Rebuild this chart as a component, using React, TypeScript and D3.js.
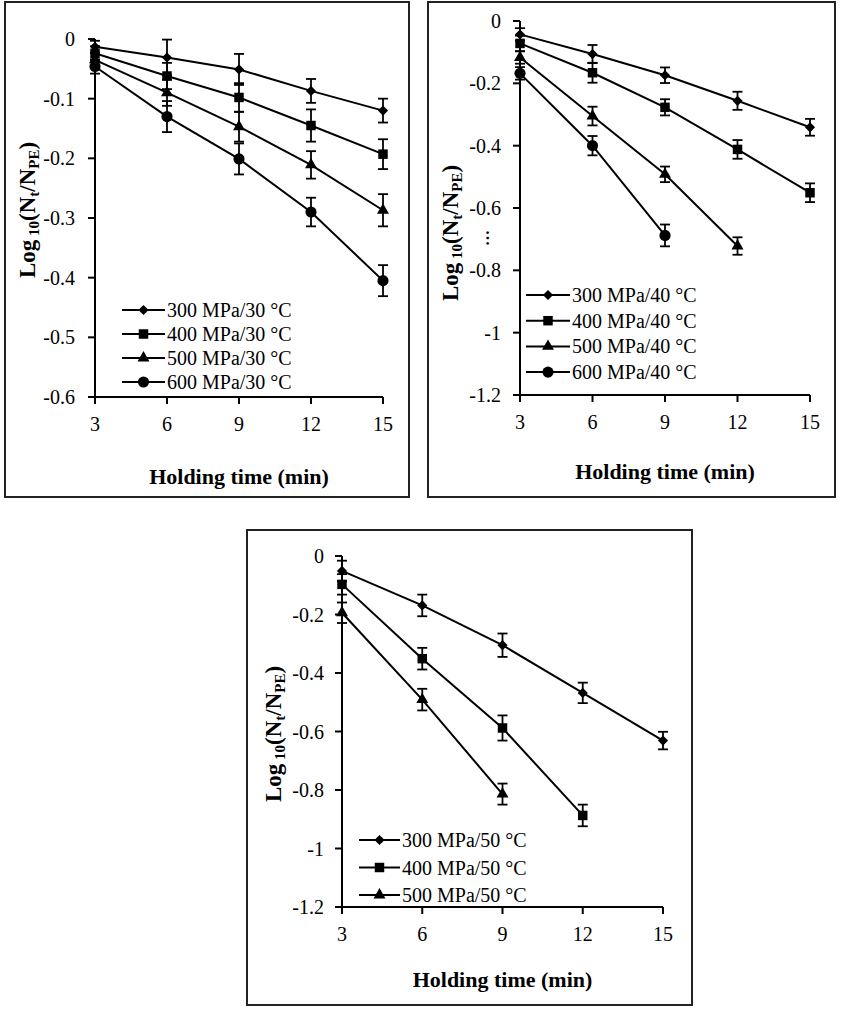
import React from "react";
import * as d3 from "d3";

/* Holding times (min) and axis ticks */
const holdingTimes = [3, 6, 9, 12, 15];
const xTicks = [3, 6, 9, 12, 15];
const yTicks30 = [0, -0.1, -0.2, -0.3, -0.4, -0.5, -0.6];
const yTicksHigh = [0, -0.2, -0.4, -0.6, -0.8, -1, -1.2];

/* 30 °C */
const labels30 = ["300 MPa/30 °C", "400 MPa/30 °C", "500 MPa/30 °C", "600 MPa/30 °C"];
const log30_300 = [-0.013, -0.031, -0.051, -0.087, -0.12];
const err30_300 = [0.01, 0.03, 0.026, 0.02, 0.02];
const log30_400 = [-0.024, -0.062, -0.098, -0.145, -0.193];
const err30_400 = [0.012, 0.022, 0.024, 0.027, 0.025];
const log30_500 = [-0.035, -0.09, -0.147, -0.211, -0.287];
const err30_500 = [0.012, 0.022, 0.025, 0.023, 0.027];
const log30_600 = [-0.046, -0.13, -0.201, -0.29, -0.405];
const err30_600 = [0.012, 0.026, 0.026, 0.024, 0.026];

/* 40 °C */
const labels40 = ["300 MPa/40 °C", "400 MPa/40 °C", "500 MPa/40 °C", "600 MPa/40 °C"];
const log40_300 = [-0.043, -0.106, -0.174, -0.256, -0.341];
const err40_300 = [0.02, 0.029, 0.025, 0.029, 0.027];
const log40_400 = [-0.072, -0.166, -0.277, -0.412, -0.551];
const err40_400 = [0.025, 0.032, 0.026, 0.03, 0.03];
const log40_500 = [-0.117, -0.305, -0.492, -0.722];
const err40_500 = [0.02, 0.03, 0.025, 0.028];
const log40_600 = [-0.168, -0.4, -0.688];
const err40_600 = [0.02, 0.031, 0.035];

/* 50 °C */
const labels50 = ["300 MPa/50 °C", "400 MPa/50 °C", "500 MPa/50 °C"];
const log50_300 = [-0.051, -0.169, -0.305, -0.468, -0.631];
const err50_300 = [0.035, 0.037, 0.04, 0.035, 0.03];
const log50_400 = [-0.097, -0.351, -0.588, -0.887];
const err50_400 = [0.035, 0.037, 0.043, 0.037];
const log50_500 = [-0.194, -0.491, -0.814];
const err50_500 = [0.035, 0.037, 0.036];

const markers = ["diamond", "square", "triangle", "circle"];

const font = "'Liberation Serif', 'Times New Roman', serif";

const markerPath: any = {
  diamond: d3.symbol(d3.symbolSquare, 52)(),
  square: d3.symbol(d3.symbolSquare, 90)(),
  triangle: d3.symbol(d3.symbolTriangle, 62)(),
  circle: d3.symbol(d3.symbolCircle, 98)(),
};

const Marker = ({ type, x, y }: any) => (
  <path
    d={markerPath[type]}
    transform={`translate(${x},${y})${type === "diamond" ? " rotate(45)" : ""}`}
    fill="#000"
  />
);

/* layout of the three panels */
const panels = [
  {
    frame: { x: 5, y: 2, w: 404, h: 495 },
    plot: { left: 95, right: 383, top: 39, bottom: 397 },
    yDomain: [-0.6, 0],
    yTicks: yTicks30,
    labelGap: 20,
    legend: { x1: 122, x2: 165, y0: 310, dy: 24 },
    yTitle: { x: 27, y: 210 },
    xTitleY: 484,
    dots: null,
    series: [
      { label: labels30[0], values: log30_300, errors: err30_300, marker: markers[0] },
      { label: labels30[1], values: log30_400, errors: err30_400, marker: markers[1] },
      { label: labels30[2], values: log30_500, errors: err30_500, marker: markers[2] },
      { label: labels30[3], values: log30_600, errors: err30_600, marker: markers[3] },
    ],
  },
  {
    frame: { x: 428, y: 2, w: 407, h: 495 },
    plot: { left: 520, right: 810, top: 21, bottom: 395 },
    yDomain: [-1.2, 0],
    yTicks: yTicksHigh,
    labelGap: 19,
    legend: { x1: 526, x2: 570, y0: 295, dy: 25.7 },
    yTitle: { x: 450, y: 233 },
    xTitleY: 479,
    dots: { x: 483, y: 238 },
    series: [
      { label: labels40[0], values: log40_300, errors: err40_300, marker: markers[0] },
      { label: labels40[1], values: log40_400, errors: err40_400, marker: markers[1] },
      { label: labels40[2], values: log40_500, errors: err40_500, marker: markers[2] },
      { label: labels40[3], values: log40_600, errors: err40_600, marker: markers[3] },
    ],
  },
  {
    frame: { x: 247, y: 530, w: 445, h: 475 },
    plot: { left: 342, right: 663, top: 556, bottom: 907 },
    yDomain: [-1.2, 0],
    yTicks: yTicksHigh,
    labelGap: 18,
    legend: { x1: 359, x2: 400, y0: 840, dy: 27.5 },
    yTitle: { x: 273, y: 734 },
    xTitleY: 987,
    dots: null,
    series: [
      { label: labels50[0], values: log50_300, errors: err50_300, marker: markers[0] },
      { label: labels50[1], values: log50_400, errors: err50_400, marker: markers[1] },
      { label: labels50[2], values: log50_500, errors: err50_500, marker: markers[2] },
    ],
  },
];

const Panel = ({ p }: any) => {
  const x = d3.scaleLinear().domain([3, 15]).range([p.plot.left, p.plot.right]);
  const y = d3.scaleLinear().domain(p.yDomain).range([p.plot.bottom, p.plot.top]);
  const line = d3
    .line<any>()
    .x((d) => x(d.t))
    .y((d) => y(d.v));
  const cx = (p.plot.left + p.plot.right) / 2;

  return (
    <g>
      <rect
        x={p.frame.x}
        y={p.frame.y}
        width={p.frame.w}
        height={p.frame.h}
        fill="#fff"
        stroke="#222"
        strokeWidth={2}
      />

      {/* axes */}
      <line x1={x(3)} x2={x(3)} y1={y(0)} y2={y(p.yDomain[0])} stroke="#000" strokeWidth={2} />
      <line x1={x(3) - 7} x2={x(15)} y1={y(p.yDomain[0])} y2={y(p.yDomain[0])} stroke="#000" strokeWidth={2} />
      {p.yTicks.map((t: number) => (
        <g key={"y" + t}>
          <line x1={x(3) - 7} x2={x(3)} y1={y(t)} y2={y(t)} stroke="#000" strokeWidth={2} />
          <text
            x={x(3) - p.labelGap}
            y={y(t)}
            dy="0.35em"
            textAnchor="end"
            fontSize={20}
            fontFamily={font}
          >
            {String(t)}
          </text>
        </g>
      ))}
      {xTicks.map((t) => (
        <g key={"x" + t}>
          <line x1={x(t)} x2={x(t)} y1={y(p.yDomain[0])} y2={y(p.yDomain[0]) + 7} stroke="#000" strokeWidth={2} />
          <text
            x={x(t)}
            y={y(p.yDomain[0]) + 27}
            dy="0.35em"
            textAnchor="middle"
            fontSize={20}
            fontFamily={font}
          >
            {t}
          </text>
        </g>
      ))}

      {/* series */}
      {p.series.map((s: any) => {
        const pts = s.values.map((v: number, i: number) => ({ t: holdingTimes[i], v, e: s.errors[i] }));
        return (
          <g key={s.label}>
            <path d={line(pts)!} fill="none" stroke="#000" strokeWidth={2} />
            {pts.map((d: any) => (
              <g key={d.t} stroke="#000" strokeWidth={1.8}>
                <line x1={x(d.t)} x2={x(d.t)} y1={y(d.v + d.e)} y2={y(d.v - d.e)} />
                <line x1={x(d.t) - 5} x2={x(d.t) + 5} y1={y(d.v + d.e)} y2={y(d.v + d.e)} />
                <line x1={x(d.t) - 5} x2={x(d.t) + 5} y1={y(d.v - d.e)} y2={y(d.v - d.e)} />
              </g>
            ))}
            {pts.map((d: any) => (
              <Marker key={"m" + d.t} type={s.marker} x={x(d.t)} y={y(d.v)} />
            ))}
          </g>
        );
      })}

      {/* legend */}
      {p.series.map((s: any, i: number) => {
        const ly = p.legend.y0 + i * p.legend.dy;
        return (
          <g key={"lg" + s.label}>
            <line x1={p.legend.x1} x2={p.legend.x2} y1={ly} y2={ly} stroke="#000" strokeWidth={2} />
            <Marker type={s.marker} x={(p.legend.x1 + p.legend.x2) / 2} y={ly} />
            <text x={p.legend.x2 + 2} y={ly} dy="0.35em" fontSize={20} fontFamily={font}>
              {s.label}
            </text>
          </g>
        );
      })}

      {/* titles */}
      <text x={cx} y={p.xTitleY} textAnchor="middle" fontSize={22} fontWeight="bold" fontFamily={font}>
        Holding time (min)
      </text>
      <text
        transform={`translate(${p.yTitle.x},${p.yTitle.y}) rotate(-90)`}
        textAnchor="middle"
        dy="0.35em"
        fontSize={23}
        fontWeight="bold"
        fontFamily={font}
      >
        Log
        <tspan fontSize={15} dy={4}>
          {" 10"}
        </tspan>
        <tspan dy={-4}>(N</tspan>
        <tspan fontSize={15} dy={4}>
          t
        </tspan>
        <tspan dy={-4}>/N</tspan>
        <tspan fontSize={15} dy={4}>
          PE
        </tspan>
        <tspan dy={-4}>)</tspan>
      </text>
      {p.dots && (
        <text
          transform={`translate(${p.dots.x},${p.dots.y}) rotate(-90)`}
          textAnchor="middle"
          dy="0.35em"
          fontSize={16}
          fontWeight="bold"
          fontFamily={font}
        >
          …
        </text>
      )}
    </g>
  );
};

const App = () => (
  <svg
    width={843}
    height={1017}
    style={{ position: "absolute", left: 0, top: 0, background: "#fff" }}
  >
    {panels.map((p, i) => (
      <Panel key={i} p={p} />
    ))}
  </svg>
);

export default App;
